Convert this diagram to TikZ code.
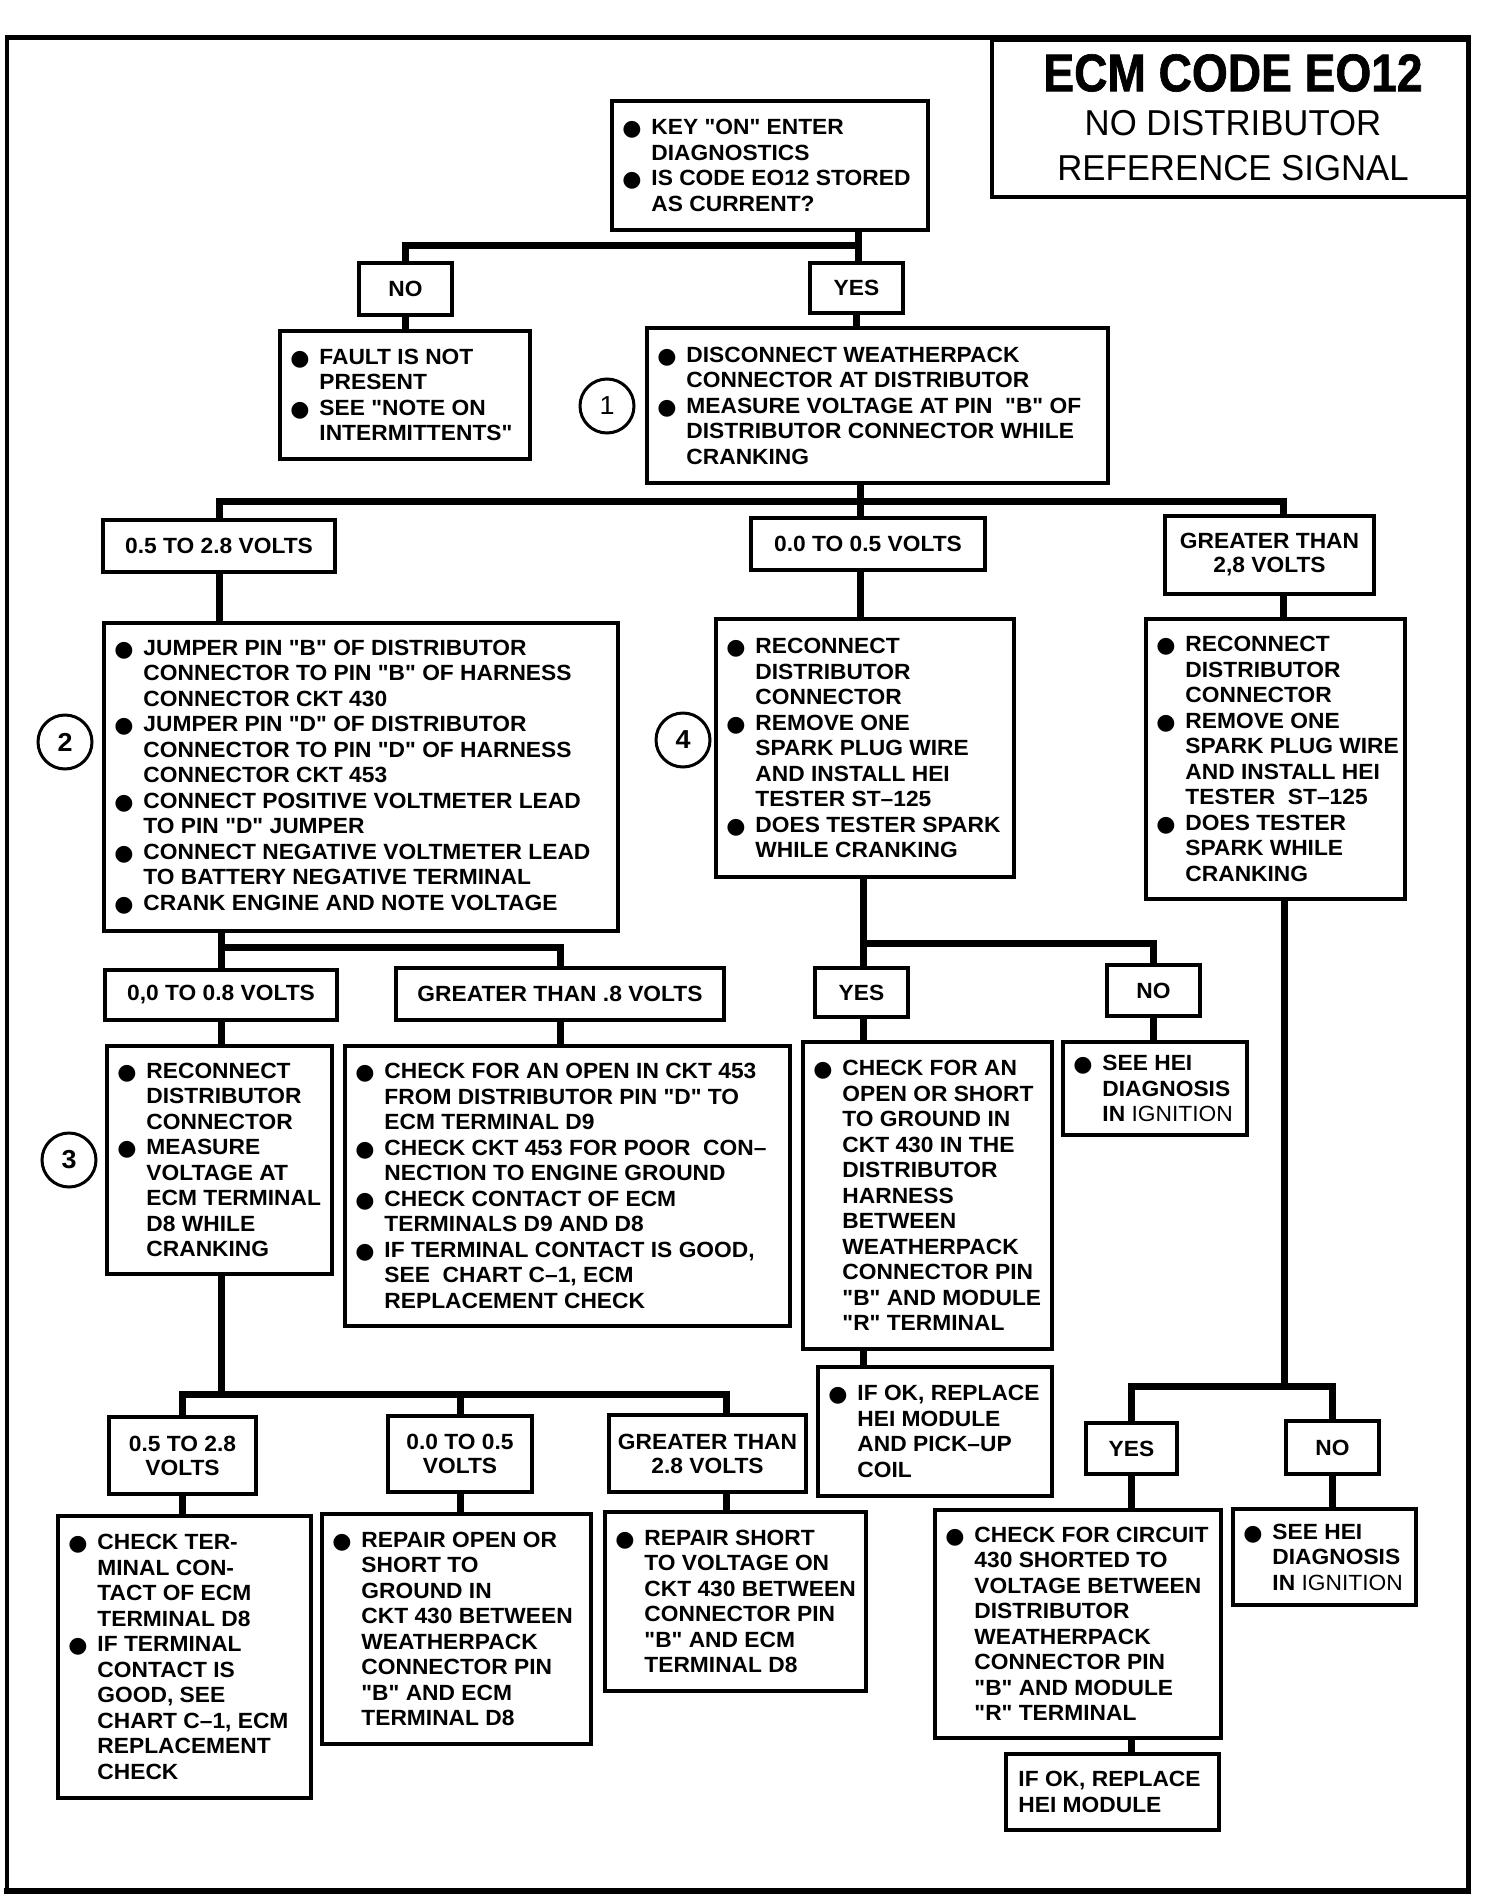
\documentclass[tikz,border=0pt]{standalone}
\usepackage{fontspec}
\setmainfont{Liberation Sans}
\newfontfamily\bodyfont[FakeStretch=1.035]{Liberation Sans}
\newfontfamily\titleA[FakeStretch=0.87,FakeBold=1.2]{Liberation Sans}
\newfontfamily\titleB[FakeStretch=0.965]{Liberation Sans}
\newfontfamily\dvsans{DejaVu Sans}
\newcommand\bul{\makebox[27pt][l]{\hspace*{-2pt}\raisebox{-1pt}{\dvsans\fontsize{22}{22}\selectfont ●}}}
\newcommand\ind{\hspace*{27pt}}
\newcommand\tbox[6]{%
  \node[box, minimum width=#4pt-#2pt, minimum height=#5pt-#3pt] (#1) at ({(#2+#4)/2},{(#3+#5)/2}) {};
  \node[txt, anchor=west] (#1t) at ([xshift=14pt]#1.west) {#6};}
\newcommand\lbox[6]{%
  \node[box, lbl, minimum width=#4pt-#2pt, minimum height=#5pt-#3pt] (#1) at ({(#2+#4)/2},{(#3+#5)/2}) {#6};}
\begin{document}
\begin{tikzpicture}[x=1pt, y=-1pt,
  box/.style={draw, line width=3.5pt, inner sep=0pt},
  txt/.style={inner sep=0pt, align=left, font={\bodyfont\fontsize{22}{25.5}\selectfont\bfseries}},
  lbl/.style={align=center, font={\bodyfont\fontsize{22}{24}\selectfont\bfseries}},
  conn/.style={line width=7pt, line join=miter},
  num/.style={circle, draw, line width=3pt, minimum size=54pt, inner sep=0pt, font={\bodyfont\fontsize{26}{26}\selectfont\bfseries}}]
\useasboundingbox (0,0) rectangle (1488,1900);

% frame
\draw[line width=5pt, line cap=rect] (7,38) -- (1468,38);
\draw[line width=6pt, line cap=rect] (7,1891) -- (1468,1891);
\draw[line width=4pt] (7,38) -- (7,1891);
\draw[line width=5pt] (1468,38) -- (1468,1891);

% title
\node[box, line width=4pt, minimum width=476pt, minimum height=157pt] (title) at (1230,118.5) {};
\node[inner sep=0pt, font={\titleA\fontsize{53}{53}\selectfont\bfseries}] (t1) at (1233,73) {ECM CODE EO12};
\node[inner sep=0pt, font={\titleB\fontsize{36}{36}\selectfont}] (t2) at (1233,123) {NO DISTRIBUTOR};
\node[inner sep=0pt, font={\titleB\fontsize{36}{36}\selectfont}] (t3) at (1233,168) {REFERENCE SIGNAL};

% boxes
\tbox{top}{612}{101}{928}{230}{\bul KEY "ON" ENTER\\\ind DIAGNOSTICS\\\bul IS CODE EO12 STORED\\\ind AS CURRENT?}
\lbox{no}{359}{263}{452}{315}{NO}
\lbox{yes}{810}{263}{903}{313}{YES}
\tbox{fault}{280}{331}{530}{459}{\bul FAULT IS NOT\\\ind PRESENT\\\bul SEE "NOTE ON\\\ind INTERMITTENTS"}
\tbox{box1}{647}{328}{1108}{483}{\bul DISCONNECT WEATHERPACK\\\ind CONNECTOR AT DISTRIBUTOR\\\bul MEASURE VOLTAGE AT PIN \ "B" OF\\\ind DISTRIBUTOR CONNECTOR WHILE\\\ind CRANKING}
\node[num, font={\bodyfont\fontsize{26}{26}\selectfont}] (c1) at (607,406) {1};

\lbox{va}{103}{520}{335}{572}{0.5 TO 2.8 VOLTS}
\lbox{vb}{751}{518}{985}{570}{0.0 TO 0.5 VOLTS}
\lbox{vc}{1165}{516}{1374}{594}{GREATER THAN\\2,8 VOLTS}

\tbox{box2}{104}{623}{618}{931}{\bul JUMPER PIN "B" OF DISTRIBUTOR\\\ind CONNECTOR TO PIN "B" OF HARNESS\\\ind CONNECTOR CKT 430\\\bul JUMPER PIN "D" OF DISTRIBUTOR\\\ind CONNECTOR TO PIN "D" OF HARNESS\\\ind CONNECTOR CKT 453\\\bul CONNECT POSITIVE VOLTMETER LEAD\\\ind TO PIN "D" JUMPER\\\bul CONNECT NEGATIVE VOLTMETER LEAD\\\ind TO BATTERY NEGATIVE TERMINAL\\\bul CRANK ENGINE AND NOTE VOLTAGE}
\node[num] (c2) at (65,742) {2};
\tbox{box4}{716}{619}{1014}{877}{\bul RECONNECT\\\ind DISTRIBUTOR\\\ind CONNECTOR\\\bul REMOVE ONE\\\ind SPARK PLUG WIRE\\\ind AND INSTALL HEI\\\ind TESTER ST–125\\\bul DOES TESTER SPARK\\\ind WHILE CRANKING}
\node[num] (c4) at (683,740) {4};
\tbox{boxr}{1146}{619}{1405}{899}{\bul RECONNECT\\\ind DISTRIBUTOR\\\ind CONNECTOR\\\bul REMOVE ONE\\\ind SPARK PLUG WIRE\\\ind AND INSTALL HEI\\\ind TESTER \ ST–125\\\bul DOES TESTER\\\ind SPARK WHILE\\\ind CRANKING}

\lbox{vd}{105}{970}{337}{1020}{0,0 TO 0.8 VOLTS}
\lbox{ve}{396}{968}{724}{1020}{GREATER THAN .8 VOLTS}
\tbox{box3}{107}{1046}{332}{1274}{\bul RECONNECT\\\ind DISTRIBUTOR\\\ind CONNECTOR\\\bul MEASURE\\\ind VOLTAGE AT\\\ind ECM TERMINAL\\\ind D8 WHILE\\\ind CRANKING}
\node[num] (c3) at (69,1160) {3};
\tbox{gt8}{345}{1046}{790}{1326}{\bul CHECK FOR AN OPEN IN CKT 453\\\ind FROM DISTRIBUTOR PIN "D" TO\\\ind ECM TERMINAL D9\\\bul CHECK CKT 453 FOR POOR \ CON–\\\ind NECTION TO ENGINE GROUND\\\bul CHECK CONTACT OF ECM\\\ind TERMINALS D9 AND D8\\\bul IF TERMINAL CONTACT IS GOOD,\\\ind SEE \ CHART C–1, ECM\\\ind REPLACEMENT CHECK}

\lbox{yes2}{815}{968}{908}{1017}{YES}
\lbox{no2}{1107}{965}{1200}{1016}{NO}
\tbox{chk}{803}{1042}{1052}{1349}{\bul CHECK FOR AN\\\ind OPEN OR SHORT\\\ind TO GROUND IN\\\ind CKT 430 IN THE\\\ind DISTRIBUTOR\\\ind HARNESS\\\ind BETWEEN\\\ind WEATHERPACK\\\ind CONNECTOR PIN\\\ind "B" AND MODULE\\\ind "R" TERMINAL}
\tbox{hei1}{1063}{1042}{1247}{1135}{\bul SEE HEI\\\ind DIAGNOSIS\\\ind IN {\mdseries IGNITION}}
\tbox{ifok1}{818}{1367}{1052}{1496}{\bul IF OK, REPLACE\\\ind HEI MODULE\\\ind AND PICK–UP\\\ind COIL}

\lbox{vf}{109}{1417}{256}{1494}{0.5 TO 2.8\\VOLTS}
\lbox{vg}{388}{1416}{532}{1492}{0.0 TO 0.5\\VOLTS}
\lbox{vh}{609}{1415}{806}{1492}{GREATER THAN\\2.8 VOLTS}
\tbox{chkter}{58}{1516}{311}{1798}{\bul CHECK TER-\\\ind MINAL CON-\\\ind TACT OF ECM\\\ind TERMINAL D8\\\bul IF TERMINAL\\\ind CONTACT IS\\\ind GOOD, SEE\\\ind CHART C–1, ECM\\\ind REPLACEMENT\\\ind CHECK}
\tbox{repopen}{322}{1514}{591}{1744}{\bul REPAIR OPEN OR\\\ind SHORT TO\\\ind GROUND IN\\\ind CKT 430 BETWEEN\\\ind WEATHERPACK\\\ind CONNECTOR PIN\\\ind "B" AND ECM\\\ind TERMINAL D8}
\tbox{repshort}{605}{1512}{866}{1691}{\bul REPAIR SHORT\\\ind TO VOLTAGE ON\\\ind CKT 430 BETWEEN\\\ind CONNECTOR PIN\\\ind "B" AND ECM\\\ind TERMINAL D8}

\lbox{yes3}{1086}{1423}{1177}{1474}{YES}
\lbox{no3}{1286}{1421}{1379}{1474}{NO}
\tbox{circ}{935}{1510}{1221}{1738}{\bul CHECK FOR CIRCUIT\\\ind 430 SHORTED TO\\\ind VOLTAGE BETWEEN\\\ind DISTRIBUTOR\\\ind WEATHERPACK\\\ind CONNECTOR PIN\\\ind "B" AND MODULE\\\ind "R" TERMINAL}
\tbox{hei2}{1233}{1509}{1416}{1605}{\bul SEE HEI\\\ind DIAGNOSIS\\\ind IN {\mdseries IGNITION}}
\tbox{ifok2}{1006}{1754}{1219}{1830}{IF OK, REPLACE\\HEI MODULE}

% connectors
\coordinate (j1) at (858,245);
\draw[conn] (top.south -| j1) -- (j1);
\draw[conn] (no.north) |- (j1) -- (yes.north -| j1);
\draw[conn] (yes.south) -- (yes.south |- box1.north);
\draw[conn] (no.south) -- (no.south |- fault.north);

\coordinate (j2) at (860,501);
\coordinate (j2r) at (1283,501);
\draw[conn] (box1.south -| j2) -- (vb.north -| j2);
\draw[conn] (va.north) |- (j2r) -- (vc.north -| j2r);
\draw[conn] (va.south) -- (va.south |- box2.north);
\draw[conn] (vb.south -| j2) -- (box4.north -| j2);
\draw[conn] (vc.south -| j2r) -- (boxr.north -| j2r);

\coordinate (j3) at (221,947);
\draw[conn] (box2.south -| j3) -- (vd.north -| j3);
\draw[conn] (j3) -| (ve.north);
\draw[conn] (vd.south -| j3) -- (box3.north -| j3);
\draw[conn] (ve.south) -- (ve.south |- gt8.north);

\coordinate (j4) at (863,943);
\draw[conn] (box4.south -| j4) -- (yes2.north -| j4);
\draw[conn] (j4) -| (no2.north);
\draw[conn] (yes2.south -| j4) -- (chk.north -| j4);
\draw[conn] (no2.south) -- (no2.south |- hei1.north);
\draw[conn] (chk.south -| j4) -- (ifok1.north -| j4);

\coordinate (j5) at (221,1394);
\coordinate (j5r) at (726,1394);
\draw[conn] (box3.south -| j5) -- (j5);
\draw[conn] (vf.north) |- (j5r) -- (vh.north -| j5r);
\draw[conn] (vg.north |- j5) -- (vg.north);
\draw[conn] (vf.south) -- (vf.south |- chkter.north);
\draw[conn] (vg.south) -- (vg.south |- repopen.north);
\draw[conn] (vh.south -| j5r) -- (repshort.north -| j5r);

\coordinate (j6) at (1284,1386);
\draw[conn] (boxr.south -| j6) -- (j6);
\draw[conn] (yes3.north) |- (no3.north |- j6) -- (no3.north);
\draw[conn] (yes3.south) -- (yes3.south |- circ.north);
\draw[conn] (no3.south) -- (no3.south |- hei2.north);
\draw[conn] (circ.south -| yes3) -- (ifok2.north -| yes3);
\end{tikzpicture}
\end{document}
